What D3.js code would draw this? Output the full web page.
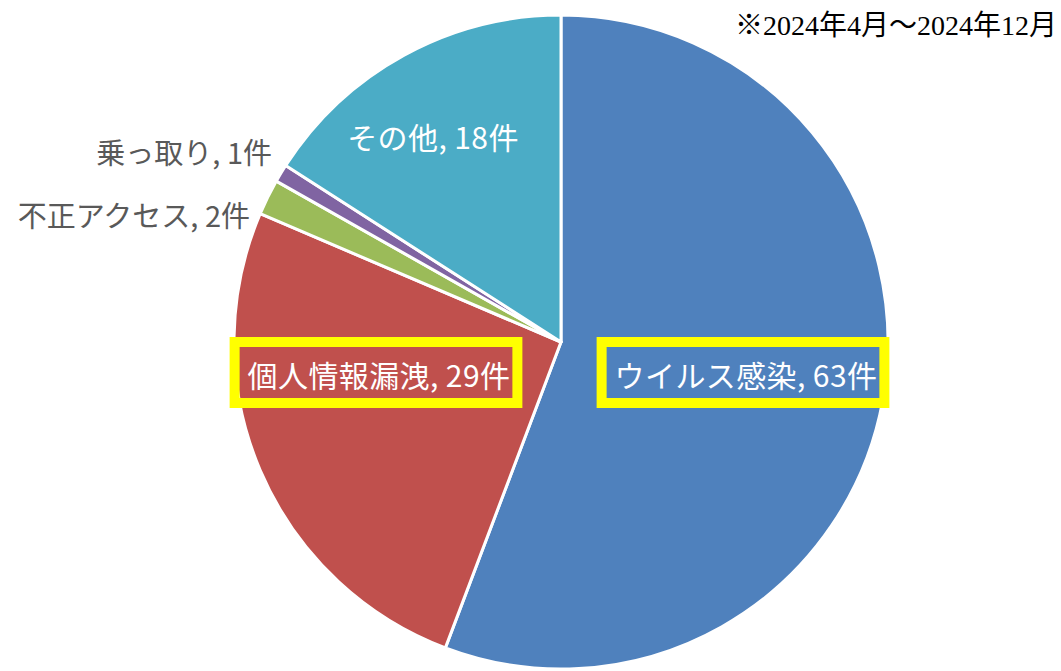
<!DOCTYPE html>
<html>
<head>
<meta charset="utf-8">
<script src="https://cdn.jsdelivr.net/npm/d3@7"></script>
<style>
  body { margin: 0; background: #fff; }
  text { font-family: "Noto Sans CJK JP", "Noto Sans", sans-serif; }
</style>
</head>
<body>
<div class="container"></div>
<script>
const WIDTH = 1061;
const HEIGHT = 671;
const CX = 561, CY = 342, RADIUS = 327;

// data (clockwise from 12 o'clock)
var categories = ["ウイルス感染", "個人情報漏洩", "不正アクセス", "乗っ取り", "その他"];
var counts = [63, 29, 2, 1, 18];
var colours = ["#4F81BD", "#C0504D", "#9BBB59", "#8064A2", "#4BACC6"];
var note = "※2024年4月～2024年12月";

// label layout: [x, y, anchor, inside, highlighted]
var labelLayout = [
    [746, 374, "middle", true, true],
    [379, 374, "middle", true, true],
    [250, 214, "end", false, false],
    [272, 151, "end", false, false],
    [433, 136, "middle", true, false]
];

var svg = d3.select('.container').append('svg')
    .attr('width', WIDTH)
    .attr('height', HEIGHT);

var pie = d3.pie().sort(null).value(function(d){ return d; });
var arc = d3.arc().innerRadius(0).outerRadius(RADIUS);
var arcs = pie(counts);

var g = svg.append('g')
    .attr('transform', 'translate('+CX+', '+CY+')');

g.selectAll('path')
    .data(arcs)
    .enter()
    .append('path')
    .attr('d', arc)
    .attr('fill', function(d, i){ return colours[i]; })
    .attr('stroke', '#fff')
    .attr('stroke-width', 3)
    .attr('stroke-linejoin', 'round');

var labels = svg.append('g');
arcs.forEach(function(d, i) {
    var lay = labelLayout[i];
    var t = labels.append('text')
        .attr('x', lay[0])
        .attr('y', lay[1])
        .attr('text-anchor', lay[2])
        .attr('dominant-baseline', 'central')
        .attr('font-size', lay[3] ? 30 : 29)
        .attr('letter-spacing', lay[3] ? 0.4 : 0)
        .attr('fill', lay[3] ? '#fff' : '#595959')
        .text(categories[i] + ', ' + counts[i] + '件');
    if (lay[4]) {
        var bb = t.node().getBBox();
        labels.insert('rect', 'text')
            .attr('x', bb.x - 13)
            .attr('y', lay[1] - 32)
            .attr('width', bb.width + 20)
            .attr('height', 61)
            .attr('fill', 'none')
            .attr('stroke', '#FFFF00')
            .attr('stroke-width', 10);
    }
});

svg.append('text')
    .attr('x', 1057)
    .attr('y', 35)
    .attr('text-anchor', 'end')
    .attr('font-size', 28)
    .style('font-family', '"Liberation Serif", "Noto Sans CJK JP", serif')
    .attr('fill', '#000')
    .text(note);
</script>
</body>
</html>
